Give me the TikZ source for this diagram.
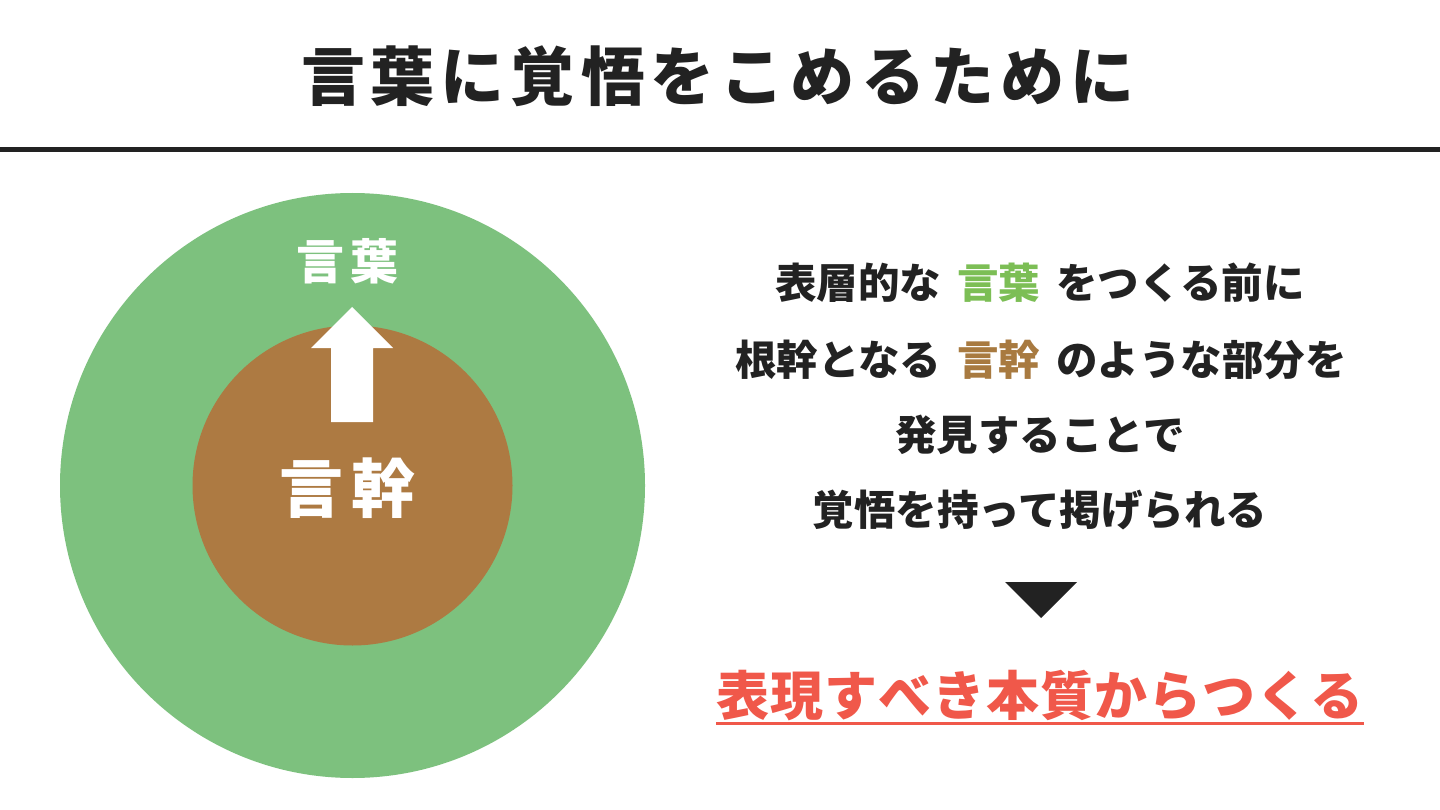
\documentclass[tikz,border=0pt]{standalone}
\usepackage{fontspec}
\setmainfont{Noto Sans CJK JP}
\newdimen\cjkgap
\def\spcloop#1{\ifx#1\relax\else#1\kern\cjkgap\expandafter\spcloop\fi}
\newcommand\spaced[2]{\cjkgap=#1\relax\spcloop#2\relax\kern-\cjkgap}
\definecolor{bggreen}{HTML}{7DC17E}
\definecolor{bgbrown}{HTML}{AD7A42}
\definecolor{txtgreen}{HTML}{7CBE55}
\definecolor{txtbrown}{HTML}{A87A40}
\definecolor{accent}{HTML}{F0584A}
\definecolor{ink}{HTML}{222222}
\tikzset{
  body/.style={inner sep=0pt, text=ink, font=\bfseries\fontsize{41.5}{41.5}\selectfont},
  disc/.style={circle, inner sep=0pt, draw=none},
}
\begin{document}
\begin{tikzpicture}[x=1pt,y=-1pt]
\useasboundingbox[fill=white] (0,0) rectangle (1440,810);
% title
\node[inner sep=0pt, text=ink, font=\bfseries\fontsize{64}{64}\selectfont] (title) at (718,76) {\spaced{6pt}{言葉に覚悟をこめるために}};
\coordinate (ruleL) at (0,150);
\coordinate (ruleR) at (1440,150);
\draw[line width=5pt, ink] (ruleL) -- (ruleR);
% circles
\node[disc, fill=bggreen, minimum size=585pt] (outer) at (352.5,485.5) {};
\node[disc, fill=bgbrown, minimum size=320pt] (inner) at (352.5,485.5) {};
% arrow
\fill[white] (352,307) -- (393,348) -- (373,348) -- (373,422) -- (331,422) -- (331,348) -- (311,348) -- cycle;
\node[inner sep=0pt, text=white, font=\bfseries\fontsize{48}{48}\selectfont] (kotoba) at (347,261) {\spaced{6pt}{言葉}};
\node[inner sep=0pt, text=white, font=\bfseries\fontsize{64}{64}\selectfont] (genkan) at (347,488) {\spaced{8pt}{言幹}};
% right text
\node[body] (l1) at (1040,283) {表層的な\hspace{16pt}\textcolor{txtgreen}{言葉}\hspace{16pt}をつくる前に};
\node[body] (l2) at (1041,360) {根幹となる\hspace{16pt}\textcolor{txtbrown}{言幹}\hspace{16pt}のような部分を};
\node[body] (l3) at (1040,435) {発見することで};
\node[body] (l4) at (1040,510) {覚悟を持って掲げられる};
\fill[ink] (1005,582) -- (1077,582) -- (1041,618) -- cycle;
\node[inner sep=0pt, text=accent, font=\bfseries\fontsize{53}{53}\selectfont] (concl) at (1040,696) {\spaced{1pt}{表現すべき本質からつくる}};
\draw[accent, line width=3pt] ([yshift=-2pt]concl.south west) -- ([yshift=-2pt]concl.south east);
\end{tikzpicture}
\end{document}
